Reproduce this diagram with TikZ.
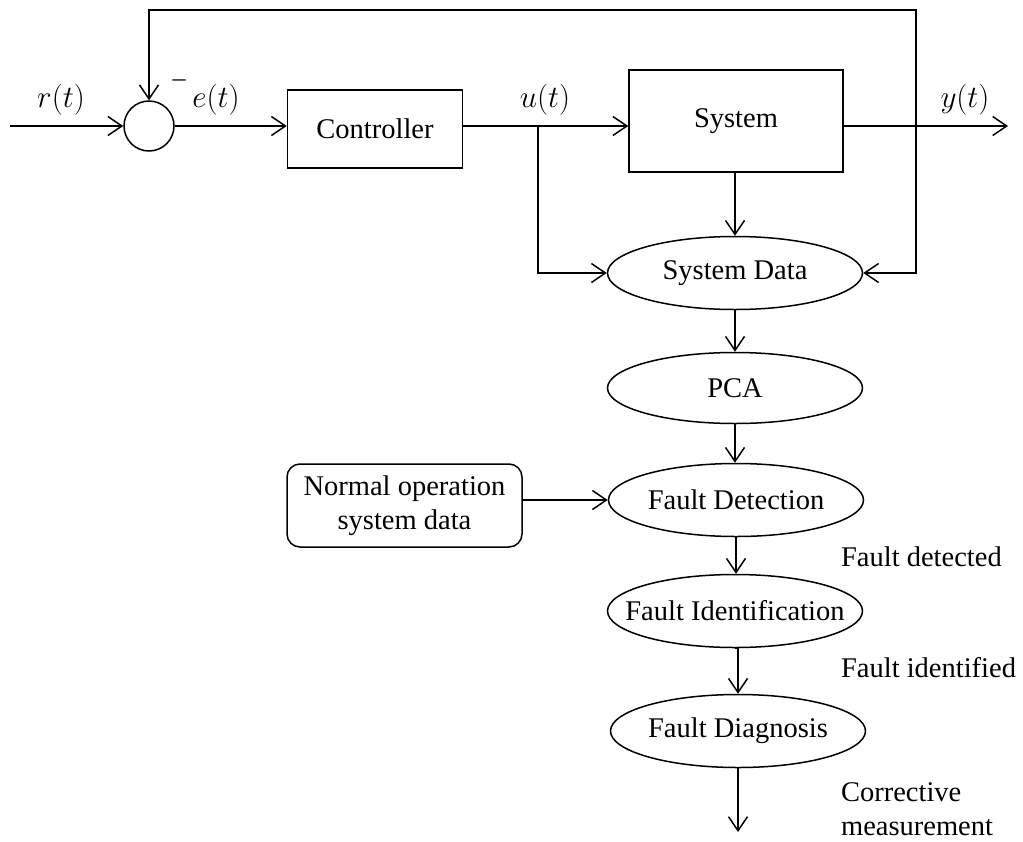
\documentclass[tikz,border=0pt]{standalone}
\usepackage{fontspec}
\setmainfont{Liberation Serif}
\usetikzlibrary{arrows.meta,shapes.geometric}

\begin{document}
\begin{tikzpicture}[x=1pt,y=-1pt,
  line width=1.5pt,
  >={Straight Barb[length=14pt,width=19pt,line width=1.5pt]},
  font=\fontsize{28.5}{36}\selectfont,
  blockbox/.style={draw,rectangle,inner sep=0pt},
  stagebox/.style={draw,ellipse,minimum width=255pt,minimum height=73pt,inner sep=0pt},
  databox/.style={draw,rectangle,rounded corners=13pt,minimum width=235pt,minimum height=83pt,align=center,inner sep=0pt},
  sumnode/.style={draw,circle,minimum size=50pt,inner sep=0pt},
  sig/.style={anchor=base,scale=1.25},
  note/.style={anchor=base west}]

\useasboundingbox (0,0) rectangle (1023,841);

% control loop
\node[sumnode] (sum) at (149,126) {};
\node[blockbox,minimum width=175pt,minimum height=78pt] (ctrl) at (375,129) {Controller};
\node[blockbox,minimum width=214pt,minimum height=102pt] (sys) at (736,121) {System};

% monitoring chain
\node[stagebox] (sd) at (735,273) {System Data};
\node[stagebox,minimum height=71pt] (pca) at (735,388) {PCA};
\node[stagebox] (fdet) at (736,500) {Fault Detection};
\node[stagebox,inner xsep=-20pt] (fid) at (735,611) {Fault Identification};
\node[stagebox] (fdiag) at (738,731) {Fault Diagnosis};
\node[databox] (normal) at (404.5,505.5) {Normal operation\\[-2pt]system data};

\coordinate (in) at (10,126);
\coordinate (out) at (1008,126);
\coordinate (ubr) at (538,126);
\coordinate (ybr) at (916,126);
\coordinate (fbtop) at (916,10);
\coordinate (act) at (738,832);

% signals
\draw[->] (in) -- (sum);
\draw[->] (sum) -- (sum -| ctrl.west);
\draw (ctrl.east |- sum) -- (ubr);
\draw[->] (ubr) -- (sys.west |- ubr);
\draw[->] (sys.east |- ubr) -- (out);
\draw[->] (ybr) -- (fbtop) -| (sum.north);
\draw[->] (ybr) |- (sd.east);
\draw[->] (ubr) |- (sd.west);
\draw[->] (sys.south -| sd.north) -- (sd.north);

\draw[->] (sd) -- (pca);
\draw[->] (pca) -- (pca |- fdet.north);
\draw[->] (normal.east |- fdet) -- (fdet.west);
\draw[->] (fdet.south) -- (fdet.south |- fid.north);
\draw[->] (fid.south) -- (fid.south -| fdiag.north) -- (fdiag.north);
\draw[->] (fdiag.south) -- (act);

% labels
\node[sig] (lr) at (61,107) {$r(t)$};
\node[sig] (le) at (216,107) {$e(t)$};
\node[anchor=base,font=\fontsize{26}{30}\selectfont] (lminus) at (179,86) {–};
\node[sig] (lu) at (545,107) {$u(t)$};
\node[sig] (ly) at (965,107) {$y(t)$};

\node[note] (ldet) at (837,566) {Fault detected};
\node[note] (lid) at (837,677) {Fault identified};
\node[note] (lcor) at (837,801) {Corrective};
\node[note] (lmeas) at (837,835) {measurement};

\end{tikzpicture}
\end{document}
